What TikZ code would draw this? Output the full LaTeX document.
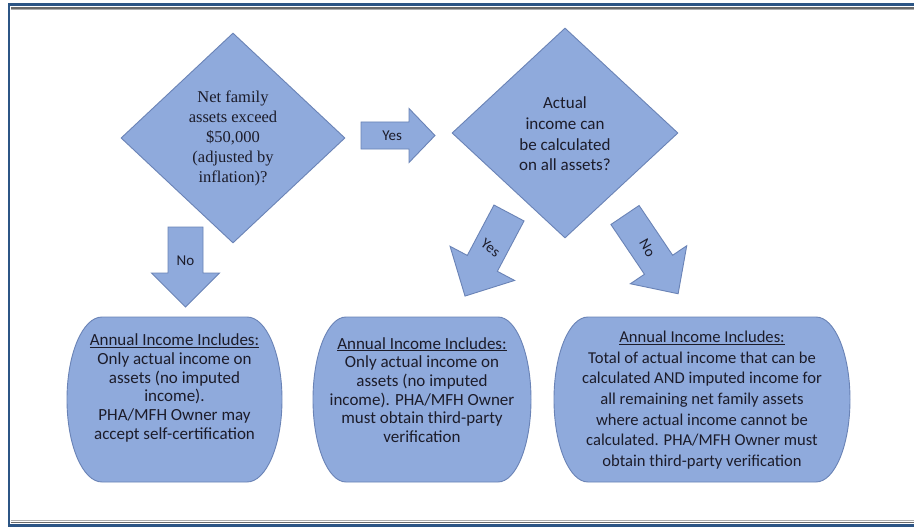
\documentclass[tikz,border=0pt]{standalone}
\usepackage{fontspec}
\setmainfont{Liberation Serif}
\newfontfamily\calib{Carlito}
\usetikzlibrary{shapes.geometric}

\definecolor{shapefill}{HTML}{8FAADC}
\definecolor{shapeline}{HTML}{6A83B6}
\definecolor{framblue}{HTML}{2C5585}
\definecolor{framgray}{HTML}{6A6A6A}
\definecolor{inktext}{HTML}{1C1C2A}

\tikzset{
  flowshape/.style={fill=shapefill, draw=shapeline, line width=0.9pt, line join=miter},
  decision/.style={flowshape, diamond, inner sep=0pt},
  qserif/.style={font=\fontsize{16.5}{20}\selectfont, text=inktext, align=center},
  qsans/.style={font=\calib\fontsize{17}{20.7}\selectfont, text=inktext, align=center},
  outcome/.style={font=\calib\fontsize{17}{18.7}\selectfont, text=inktext, align=center},
  outcomewide/.style={font=\calib\fontsize{16.6}{20.6}\selectfont, text=inktext, align=center},
  arrowlabel/.style={font=\calib\fontsize{15}{18}\selectfont, text=inktext, inner sep=0pt},
}

% Block arrow: name, tail centre, angle, length, shaft half width,
% head half width, head length, label, label rotation
\newcommand{\blockarrow}[9]{%
  \begin{scope}[shift={#2}, rotate=#3]
    \draw[flowshape] (0,-#5) -- ({#4-#7},-#5) -- ({#4-#7},-#6) -- (#4,0)
      -- ({#4-#7},#6) -- ({#4-#7},#5) -- (0,#5) -- cycle;
    \node[arrowlabel, rotate=#9] (#1) at ({0.42*#4},0) {#8};
  \end{scope}}

% Outcome box with elliptical ends: x0, y0, x1, y1, corner x radius
\newcommand{\capsulepath}[5]{%
  \pgfmathsetmacro\cpxa{#1+#5}\pgfmathsetmacro\cpxb{#3-#5}%
  \pgfmathsetmacro\cpym{(#2+#4)/2}\pgfmathsetmacro\cpky{0.5523*(#4-#2)/2}%
  \pgfmathsetmacro\cpkx{0.5523*#5}%
  \draw[flowshape] (\cpxa,#2) -- (\cpxb,#2)
    .. controls ({\cpxb+\cpkx},#2) and (#3,{\cpym-\cpky}) .. (#3,\cpym)
    .. controls (#3,{\cpym+\cpky}) and ({\cpxb+\cpkx},#4) .. (\cpxb,#4)
    -- (\cpxa,#4)
    .. controls ({\cpxa-\cpkx},#4) and (#1,{\cpym+\cpky}) .. (#1,\cpym)
    .. controls (#1,{\cpym-\cpky}) and ({\cpxa-\cpkx},#2) .. (\cpxa,#2) -- cycle;}

\begin{document}
\begin{tikzpicture}[x=1pt, y=-1pt]
  \useasboundingbox[fill=white] (0,0) rectangle (914,527);

  % page frame
  \draw[framgray!55, line width=1.2pt] (10.5,9.5) -- (914,9.5);
  \draw[framgray, line width=1.4pt] (10.5,8) -- (914,8);
  \draw[framgray!55, line width=1.2pt] (10.5,520.5) -- (914,520.5);
  \draw[framgray, line width=1.4pt] (10.5,522.3) -- (914,522.3);
  \draw[framblue, line width=2.6pt] (914,4.5) -- (9,4.5) -- (9,525.5) -- (914,525.5);

  % decisions
  \node[decision, minimum width=224pt, minimum height=210pt] (assets) at (233,138) {};
  \node[qserif] (assetstext) at (assets.center) {Net family\\assets exceed\\\$50,000\\(adjusted by\\inflation)?};

  \node[decision, minimum width=226pt, minimum height=210pt] (actual) at (565,133) {};
  \node[qsans] (actualtext) at ([yshift=-1pt]actual.center) {Actual\\income can\\be calculated\\on all assets?};

  % block arrows
  \blockarrow{noleft}{(185.5,227)}{-90}{80}{17.5}{34}{34}{No}{0}
  \blockarrow{yesright}{(361,135.5)}{0}{74}{13.5}{27}{26}{Yes}{0}
  \blockarrow{yesdiag}{(509,213)}{-117.9}{94}{17}{36.5}{37}{Yes}{-37}
  \blockarrow{nodiag}{(625,215)}{-56}{95}{17}{34}{35}{No}{-60}

  % outcomes
  \capsulepath{67}{317}{282}{482}{35}
  \node[outcome] (outa) at (174.5,388) {\underline{Annual Income Includes:}\\Only actual income on\\assets (no imputed\\income).\\PHA/MFH Owner may\\accept self-certification};

  \capsulepath{313}{317}{531}{482}{33}
  \node[outcome] (outb) at (422,390) {\underline{Annual Income Includes:}\\Only actual income on\\assets (no imputed\\income). PHA/MFH Owner\\must obtain third-party\\verification};

  \capsulepath{554}{317}{850}{482}{34}
  \node[outcomewide] (outc) at (702,400) {\underline{Annual Income Includes:}\\Total of actual income that can be\\calculated AND imputed income for\\all remaining net family assets\\where actual income cannot be\\calculated. PHA/MFH Owner must\\obtain third-party verification};
\end{tikzpicture}
\end{document}
